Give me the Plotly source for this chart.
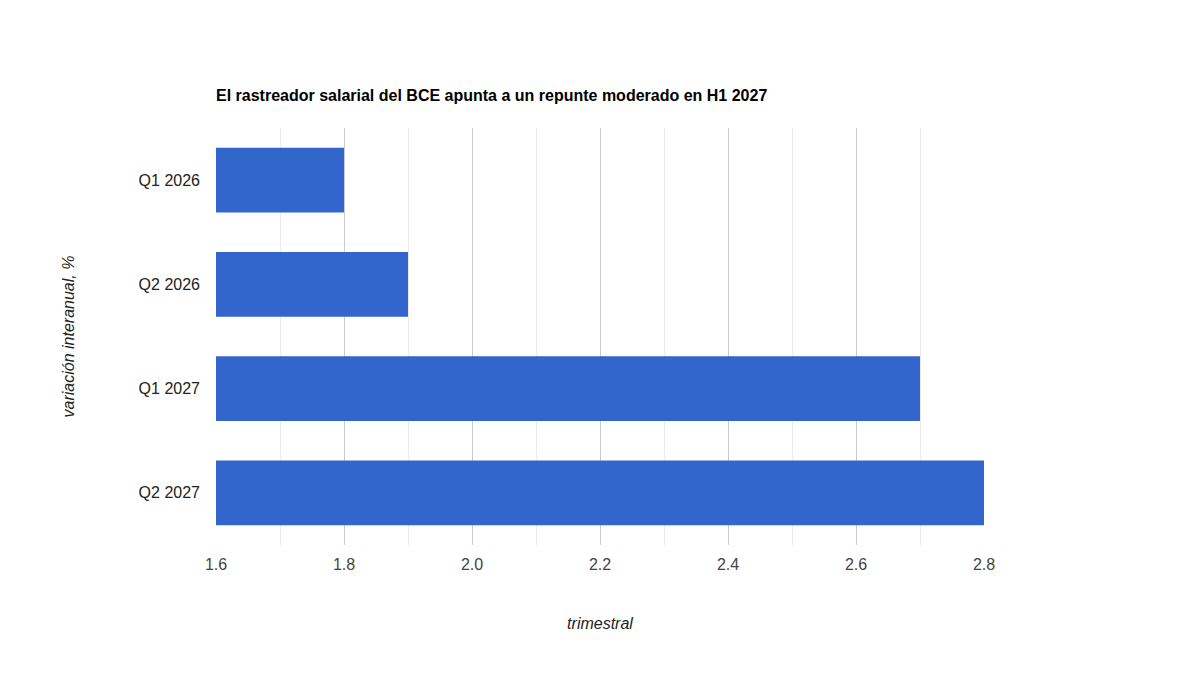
import plotly.graph_objects as go

# ── Data ──────────────────────────────────────────────────────────────────────
QUARTERS = ["Q1 2026", "Q2 2026", "Q1 2027", "Q2 2027"]
WAGE_GROWTH = [1.8, 1.9, 2.7, 2.8]
X_TICKS = [1.6, 1.8, 2.0, 2.2, 2.4, 2.6, 2.8]

BAR_COLOUR = "#3366cc"
FONT = "Liberation Sans, Arial, sans-serif"

fig = go.Figure()
fig.add_trace(go.Bar(
    y=QUARTERS, x=WAGE_GROWTH, orientation="h",
    marker=dict(color=BAR_COLOUR, line=dict(width=0)),
    name="variación interanual, %",
))

fig.update_layout(
    width=1200, height=675,
    margin=dict(l=208, r=224, t=120, b=138, autoexpand=False),
    paper_bgcolor="white", plot_bgcolor="white",
    font=dict(family=FONT, size=16, color="#444444"),
    showlegend=False,
    bargap=0.38,
    title=dict(
        text="<b>El rastreador salarial del BCE apunta a un repunte moderado en H1 2027</b>",
        x=208 / 1200, xanchor="left", y=1 - 87 / 675, yanchor="middle",
        font=dict(family=FONT, size=16, color="#000000"),
    ),
)
fig.update_xaxes(
    range=[1.6, 2.8], tickvals=X_TICKS, tickformat=".1f",
    showgrid=True, gridcolor="#cccccc", gridwidth=1,
    minor=dict(dtick=0.1, showgrid=True, gridcolor="#ebebeb"),
    zeroline=False, showline=False, ticks="", ticklabelstandoff=8,
    tickfont=dict(size=16, color="#444444"),
    title=dict(text="<i>trimestral</i>", standoff=45,
               font=dict(size=16, color="#222222")),
    fixedrange=True,
)
fig.update_yaxes(
    autorange="reversed", showgrid=False, zeroline=False, showline=False,
    ticks="", ticklabelstandoff=15,
    tickfont=dict(size=16, color="#222222"),
    title=dict(text="<i>variación interanual, %</i>", standoff=60,
               font=dict(size=16, color="#222222")),
    fixedrange=True,
)

fig.write_html("out.html")
